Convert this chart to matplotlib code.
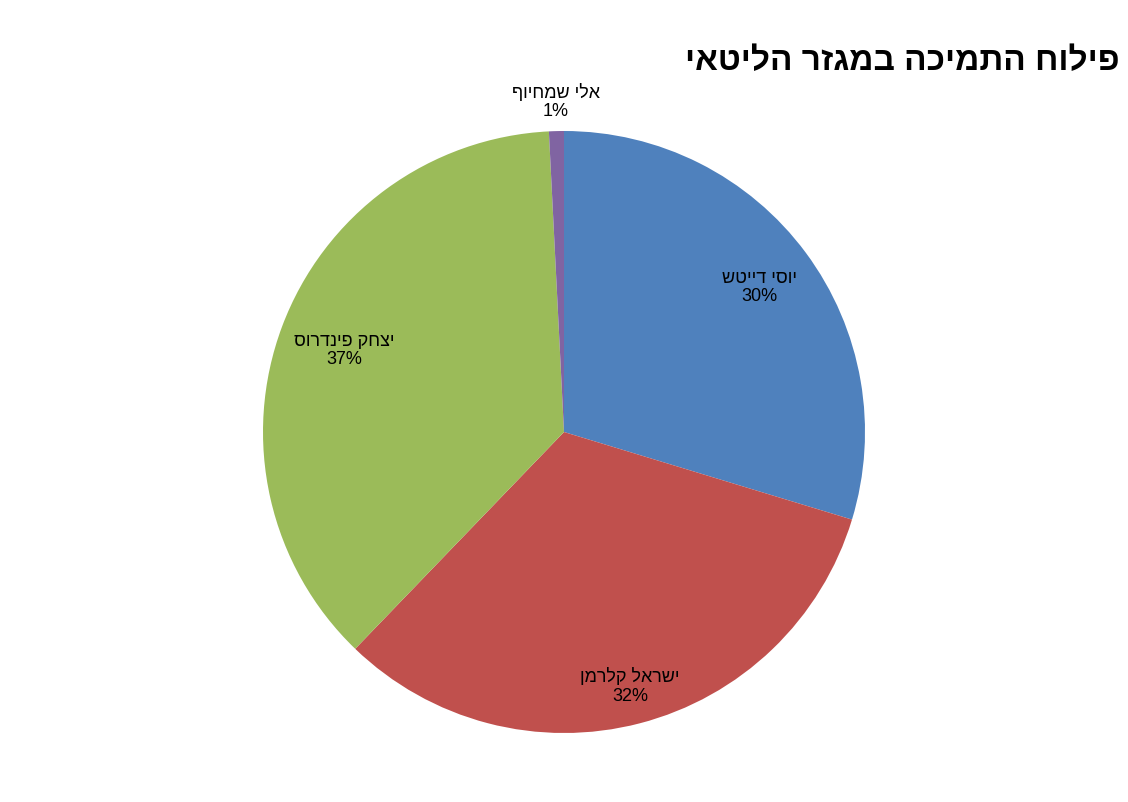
import matplotlib
matplotlib.use("Agg")
import matplotlib.pyplot as plt
import numpy as np

plt.rcParams['font.family'] = ['Liberation Sans', 'DejaVu Sans']

names = ["יוסי דייטש", "ישראל קלרמן", "יצחק פינדרוס", "אלי שמחיוף"]
values = [29.7, 32.5, 37.0, 0.8]
colors = ["#4F81BD", "#C0504D", "#9BBB59", "#8064A2"]
title = "פילוח התמיכה במגזר הליטאי"

def vis(s):
    return s[::-1]

fig = plt.figure(figsize=(11.28, 8.03), dpi=100)
r = 301
ax = fig.add_axes([(564 - r) / 1128, (803 - 433 - r) / 803, 2 * r / 1128, 2 * r / 803])
wedges, _ = ax.pie(values, colors=colors, startangle=90, counterclock=False, radius=1,
                   wedgeprops=dict(linewidth=0))
ax.set_xlim(-1, 1); ax.set_ylim(-1, 1)
ax.set_aspect('equal')
dists = [0.81, 0.87, 0.78, 1.1]
total = sum(values)
for w, n, v, d in zip(wedges, names, values, dists):
    a = np.deg2rad((w.theta1 + w.theta2) / 2)
    ax.text(d * np.cos(a), d * np.sin(a), f"{vis(n)}\n{round(v / total * 100):.0f}%",
            ha='center', va='center', fontsize=13, linespacing=1.1)
fig.text(1120 / 1128, 1 - 62 / 803, vis(title), ha='right', va='center', fontsize=24, fontweight='bold')
fig.savefig("out.png", dpi=100)
